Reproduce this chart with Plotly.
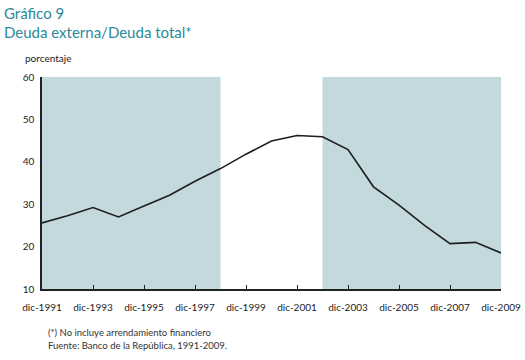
import plotly.graph_objects as go

years = list(range(1991, 2010))
values = [25.6, 27.3, 29.2, 27.0, 29.6, 32.1, 35.4, 38.4, 41.8, 44.9, 46.2, 45.9, 42.9,
          34.1, 29.8, 25.0, 20.7, 21.0, 18.5]
tick_years = list(range(1991, 2010, 2))
tick_labels = ["dic-%d" % y for y in tick_years]
shade_periods = [(1991, 1998), (2002, 2009)]

title_color = "#2a8a9a"
shade_color = "#c4d9dd"
font_family = "Lato, 'Open Sans', sans-serif"

W, H = 525, 360
ML, MR, MT, MB = 42, 24, 77, 71

fig = go.Figure()
fig.add_trace(go.Scatter(x=years, y=values, mode="lines",
                         line=dict(color="#1e1e1e", width=1.6), hoverinfo="skip"))

for x0, x1 in shade_periods:
    fig.add_shape(type="rect", xref="x", yref="y", x0=x0, x1=x1, y0=10, y1=60,
                  fillcolor=shade_color, line=dict(width=0), layer="below")

plot_w = W - ML - MR
plot_h = H - MT - MB


def px(x, y):
    return (x - ML) / plot_w, ((H - y) - MB) / plot_h


def note(text, x, y, size, color):
    ax, ay = px(x, y)
    return dict(text=text, x=ax, y=ay, xref="paper", yref="paper", showarrow=False,
                xanchor="left", yanchor="middle", font=dict(size=size, color=color))


fig.update_layout(
    width=W, height=H,
    margin=dict(l=ML, r=MR, t=MT, b=MB, autoexpand=False),
    paper_bgcolor="white", plot_bgcolor="white",
    showlegend=False,
    font=dict(family=font_family, color="#222222", size=10),
    xaxis=dict(range=[1991, 2009], tickmode="array", tickvals=tick_years,
               ticktext=tick_labels, showgrid=False, zeroline=False,
               showline=True, linecolor="#222222", linewidth=1.5,
               ticks="inside", ticklen=4, tickcolor="#222222",
               ticklabelstandoff=8, tickfont=dict(size=10), automargin=False),
    yaxis=dict(range=[10, 60], tickvals=[10, 20, 30, 40, 50, 60],
               showgrid=False, zeroline=False, showline=True,
               linecolor="#222222", linewidth=1.5, ticks="",
               ticklabelstandoff=4, tickfont=dict(size=10), automargin=False),
    annotations=[
        note("Gráfico 9", 2, 13, 15, title_color),
        note("Deuda externa/Deuda total*", 2, 32, 15, title_color),
        note("porcentaje", 23, 58, 10, "#222222"),
        note("(*) No incluye arrendamiento financiero", 46, 332, 9.5, "#333333"),
        note("Fuente: Banco de la República, 1991-2009.", 46, 345, 9.5, "#333333"),
    ],
)

fig.write_html("out.html", config={"displayModeBar": False},
               post_script="document.body.style.margin='0';")
